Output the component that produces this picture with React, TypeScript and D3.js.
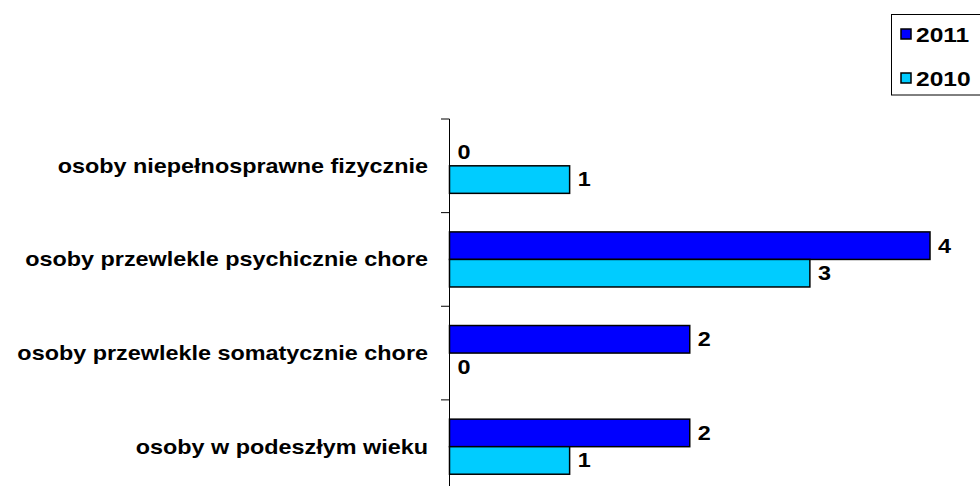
import React from "react";
import * as d3 from "d3";

const categories = [
  "osoby niepełnosprawne fizycznie",
  "osoby przewlekle psychicznie chore",
  "osoby przewlekle somatycznie chore",
  "osoby w podeszłym wieku",
];
const seriesNames = ["2011", "2010"];
const values2011 = [0, 4, 2, 2];
const values2010 = [1, 3, 0, 1];
const seriesColors = ["#0000ff", "#00ccff"];

const W = 980;
const H = 486;
const FONT = "'Liberation Sans', Arial, sans-serif";
const SX = 1.17;

export default function App() {
  const series = [values2011, values2010];
  const x = d3.scaleLinear().domain([0, 4]).range([449.5, 930]);
  const y = d3.scaleBand<string>().domain(categories).range([119, 493.5]).paddingInner(0).paddingOuter(0);
  const inner = d3
    .scaleBand<string>()
    .domain(seriesNames)
    .range([0, y.bandwidth()])
    .paddingInner(0)
    .paddingOuter(0.7);

  const tickYs = categories.map((c) => y(c)!).concat([y.range()[1]]);

  const stretchedText = (
    key: string,
    tx: number,
    ty: number,
    text: string,
    anchor: "start" | "end",
    size = 20
  ) => (
    <g key={key} transform={`translate(${tx},${ty}) scale(${SX},1)`}>
      <text
        x={0}
        y={0}
        textAnchor={anchor}
        dominantBaseline="central"
        fontFamily={FONT}
        fontWeight="bold"
        fontSize={size}
        fill="#000"
      >
        {text}
      </text>
    </g>
  );

  return (
    <svg
      width={W}
      height={H}
      style={{ position: "absolute", left: 0, top: 0, background: "#fff" }}
    >
      <rect x={0} y={0} width={W} height={H} fill="#fff" />
      {/* bars */}
      {categories.map((c, ci) =>
        seriesNames.map((s, si) => {
          const v = series[si][ci];
          const by = y(c)! + inner(s)!;
          const bh = inner.bandwidth();
          return (
            <g key={c + s}>
              {v > 0 && (
                <rect
                  x={x(0)}
                  y={by}
                  width={x(v) - x(0)}
                  height={bh}
                  fill={seriesColors[si]}
                  stroke="#000"
                  strokeWidth={1.5}
                />
              )}
              {stretchedText("l" + c + s, x(v) + 8, by + bh / 2, String(v), "start")}
            </g>
          );
        })
      )}
      {/* axis */}
      <line x1={449.5} x2={449.5} y1={y.range()[0]} y2={y.range()[1]} stroke="#000" strokeWidth={1} />
      {tickYs.map((t, i) => (
        <line key={i} x1={441} x2={449.5} y1={t} y2={t} stroke="#000" strokeWidth={1} />
      ))}
      {categories.map((c) => stretchedText("c" + c, 428, y(c)! + y.bandwidth() / 2, c, "end"))}
      {/* legend */}
      <rect x={891.5} y={14.5} width={100} height={80.5} fill="#fff" stroke="#000" strokeWidth={1} />
      {seriesNames.map((s, i) => (
        <g key={"lg" + s}>
          <rect
            x={901}
            y={29}
            width={10}
            height={10}
            transform={`translate(0,${i * 44})`}
            fill={seriesColors[i]}
            stroke="#000"
            strokeWidth={1.5}
          />
          {stretchedText("lt" + s, 916, 34.5 + i * 44, s, "start", 21)}
        </g>
      ))}
    </svg>
  );
}
